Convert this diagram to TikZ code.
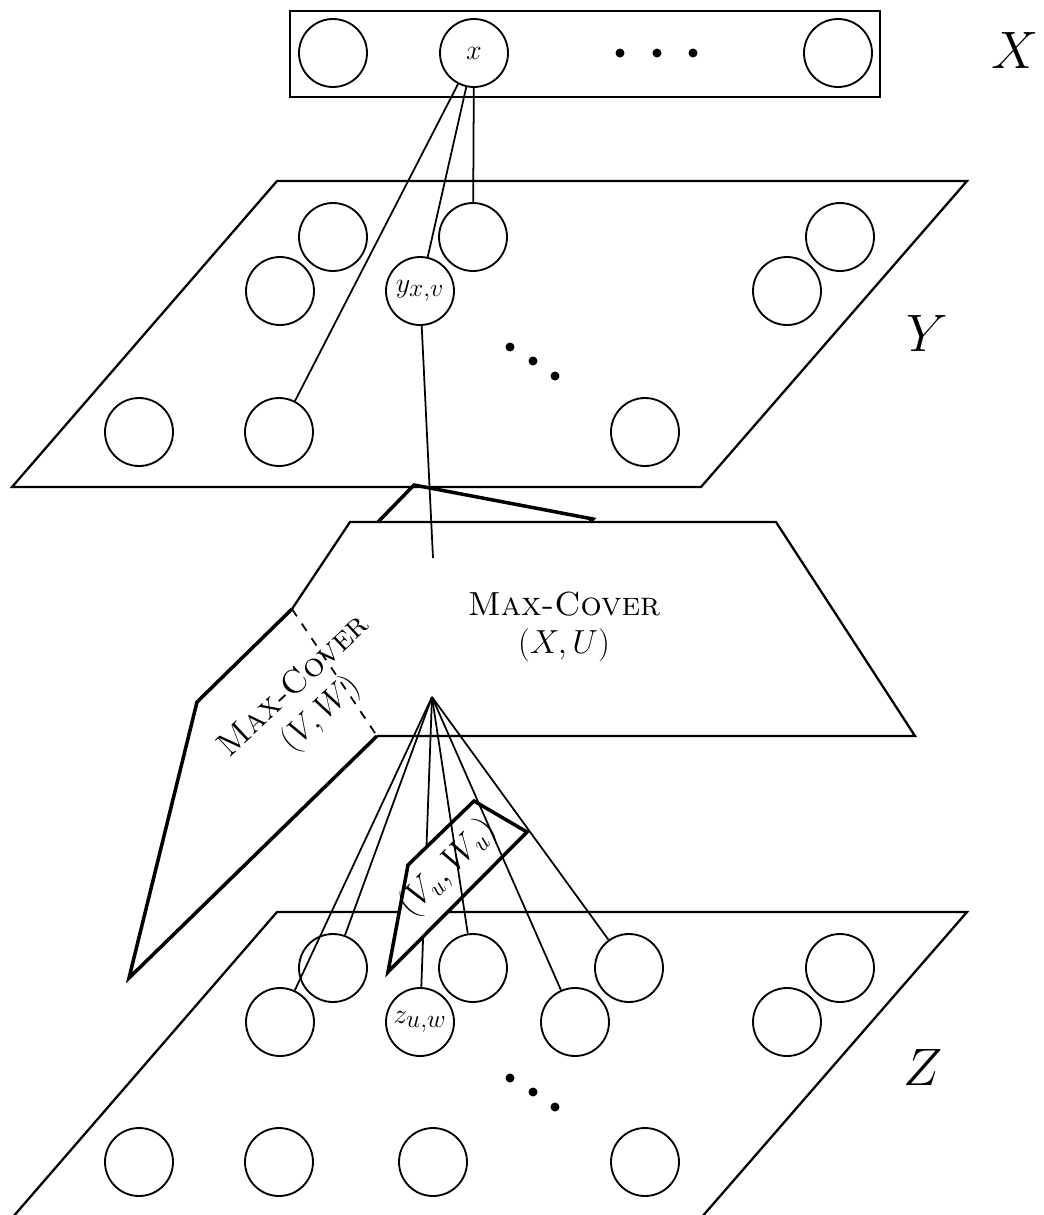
\RequirePackage{fix-cm}
\documentclass[tikz,border=0pt]{standalone}
\usepackage{fontspec}
\usepackage{amsmath}
\DeclareMathSizes{16}{16}{14.5}{12}
\usetikzlibrary{positioning,calc}

\begin{document}
\begin{tikzpicture}[
  x=0.02cm, y=-0.02cm,
  vtx/.style={draw, circle, inner sep=0pt, minimum size=1.36cm, line width=1.05pt, font=\fontsize{16}{19}\selectfont},
  plane/.style={line width=1.3pt, line join=miter},
  flap/.style={line width=2pt, line join=miter},
  edge/.style={line width=1pt},
  dot/.style={circle, fill=black, inner sep=0pt, minimum size=0.18cm},
  setlab/.style={font=\fontsize{30}{36}\selectfont},
  mc/.style={font=\fontsize{19}{22}\selectfont, align=center},
]
\useasboundingbox (0,0) rectangle (1044,1215);

% Layer X
\draw[line width=0.6pt] (290,11) rectangle (880,97);
\node[vtx] (xa) at (333,53) {};
\node[vtx] (x)  at (474,53) {$x$};
\node[vtx] (xb) at (838,53) {};
\node[dot] (xd1) at (620,53) {};
\node[dot] (xd2) at (657,53) {};
\node[dot] (xd3) at (693,53) {};
\node[setlab] (Xlab) at (1015,50) {$X$};

% Layer Y
\draw[plane] (277,181) -- (967,181) -- (701,487) -- (12,487) -- cycle;
\node[vtx] (ya)  at (333,237) {};
\node[vtx] (yb)  at (473,237) {};
\node[vtx] (yc)  at (280,291) {};
\node[vtx] (yxv) at (420,291) {$y_{x,v}$};
\node[vtx] (yd)  at (840,237) {};
\node[vtx] (ye)  at (787,291) {};
\node[vtx] (yf)  at (139,432) {};
\node[vtx] (yg)  at (279,432) {};
\node[vtx] (yh)  at (645,432) {};
\node[dot] (yd1) at (510,347) {};
\node[dot] (yd2) at (533,361) {};
\node[dot] (yd3) at (555,376) {};
\node[setlab] (Ylab) at (927,333) {$Y$};

% Layer Z
\draw[plane] (277,912) -- (967,912) -- (701,1218) -- (12,1218) -- cycle;
\node[vtx] (za)  at (333,968) {};
\node[vtx] (zb)  at (473,968) {};
\node[vtx] (zc)  at (629,968) {};
\node[vtx] (zd)  at (840,968) {};
\node[vtx] (ze)  at (280,1022) {};
\node[vtx] (zuw) at (420,1022) {$z_{u,w}$};
\node[vtx] (zf)  at (575,1022) {};
\node[vtx] (zg)  at (787,1022) {};
\node[vtx] (zh)  at (139,1162) {};
\node[vtx] (zi)  at (279,1162) {};
\node[vtx] (zj)  at (433,1162) {};
\node[vtx] (zk)  at (645,1162) {};
\node[dot] (zd1) at (510,1078) {};
\node[dot] (zd2) at (533,1092) {};
\node[dot] (zd3) at (555,1107) {};
\node[setlab] (Zlab) at (923,1067) {$Z$};

% Max-Cover planes
\draw[flap] (378,522) -- (414,485) -- (593,519) -- (590,522);
\draw[plane] (292,609) -- (350,522) -- (776,522) -- (915,736) -- (377,736);
\draw[flap] (292,609) -- (197,702) -- (129,978) -- (377,736);
\draw[edge, dashed, dash pattern=on 5pt off 5pt] (292,609) -- (377,736);
\node[mc] (XU) at (564,627) {\textsc{Max-Cover}\\$(X,U)$};
\node[mc, rotate=43] (VW) at (308,701) {\textsc{Max-Cover}\\$(V,W)$};

% Edges from x
\coordinate (ytip) at (433,558);
\coordinate (apex) at (432,697);
\draw[edge] (x) -- (yb);
\draw[edge] (x) -- (yxv);
\draw[edge] (x) -- (yg);
\draw[edge] (yxv) -- (ytip);

% Edges into Z, the sub-instance in front
\draw[edge] (apex) -- (zuw);
\draw[flap, fill=white] (474,801) -- (527,832) -- (388,972) -- (408,865) -- cycle;
\draw[edge] (apex) -- (ze);
\draw[edge] (apex) -- (za);
\draw[edge] (apex) -- (zb);
\draw[edge] (apex) -- (zf);
\draw[edge] (apex) -- (zc);
\node[font=\fontsize{20}{24}\selectfont, rotate=45] (VuWu) at (448,868) {$(V_u, W_u)$};

\end{tikzpicture}
\end{document}
